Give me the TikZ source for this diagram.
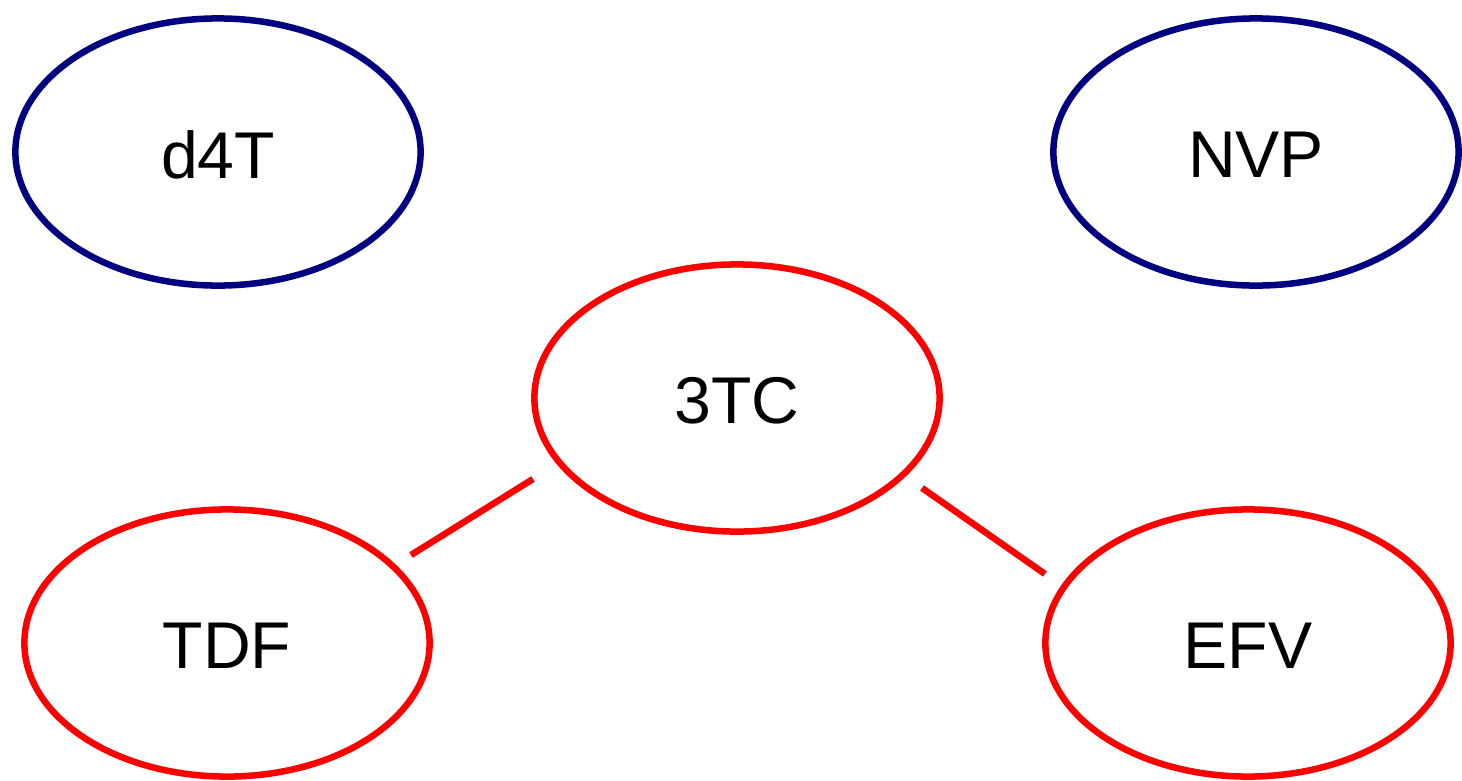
\documentclass[tikz,border=0pt]{standalone}
\usepackage{fontspec}
\setmainfont{Liberation Sans}
\usetikzlibrary{shapes.geometric,calc}
\definecolor{navyc}{RGB}{0,0,128}
\definecolor{redc}{RGB}{255,0,0}
\begin{document}
\begin{tikzpicture}[x=0.01cm,y=-0.01cm,
  ell/.style={ellipse,draw,line width=0.065cm,minimum width=4.05cm,minimum height=2.67cm,inner sep=0pt,
    label={[font=\fontsize{18.8}{22}\selectfont,yshift=-0.03cm]center:#1}},
  blueell/.style={ell=#1,draw=navyc},
  redell/.style={ell=#1,draw=redc},
  edge/.style={draw=redc,line width=0.065cm}]
\useasboundingbox (0,0) rectangle (1462,781);
\node[blueell=d4T] (d4t) at (218,152) {};
\node[blueell=NVP] (nvp) at (1256,152) {};
\node[redell=3TC] (tc) at (737,398) {};
\node[redell=TDF] (tdf) at (227,643) {};
\node[redell=EFV] (efv) at (1248,643) {};
\draw[edge] ($(tdf.center)+(184,-88)$) -- ($(tc.center)+(-204,81)$);
\draw[edge] ($(tc.center)+(185,90)$) -- ($(efv.center)+(-203,-69)$);
\end{tikzpicture}
\end{document}
